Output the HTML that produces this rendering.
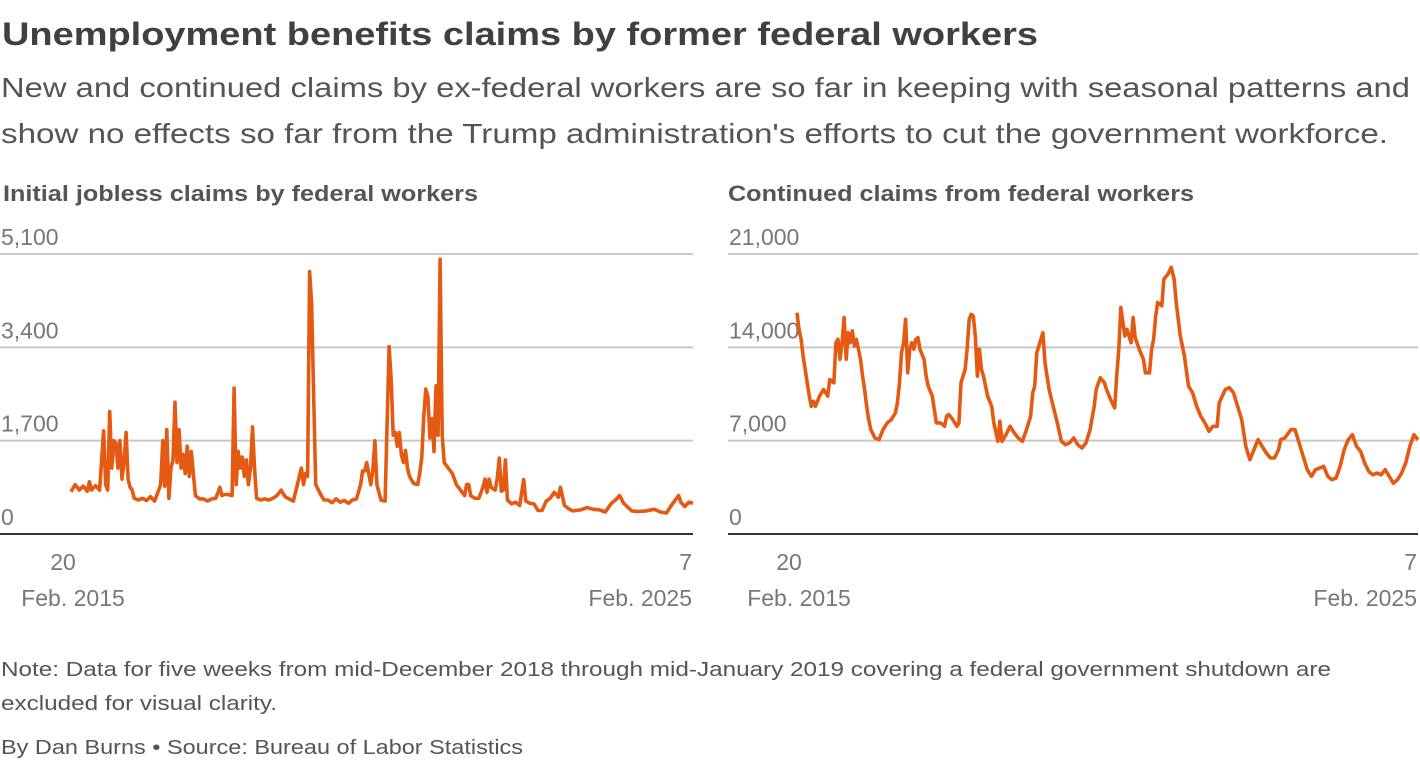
<!DOCTYPE html>
<html><head><meta charset="utf-8"><style>
html,body{margin:0;padding:0;background:#fff;}
svg{display:block;font-family:"Liberation Sans",sans-serif;}
</style></head><body>
<svg id="root" width="1420" height="760" viewBox="0 0 1420 760">
<text x="2" y="45" font-size="32" font-weight="bold" fill="#404040" textLength="1036" lengthAdjust="spacingAndGlyphs">Unemployment benefits claims by former federal workers</text>
<text x="1" y="97" font-size="28" fill="#555" textLength="1409" lengthAdjust="spacingAndGlyphs">New and continued claims by ex-federal workers are so far in keeping with seasonal patterns and</text>
<text x="1" y="143" font-size="28" fill="#555" textLength="1387" lengthAdjust="spacingAndGlyphs">show no effects so far from the Trump administration's efforts to cut the government workforce.</text>
<text x="3" y="201" font-size="22" font-weight="bold" fill="#555" textLength="475" lengthAdjust="spacingAndGlyphs">Initial jobless claims by federal workers</text>
<text x="728" y="201" font-size="22" font-weight="bold" fill="#555" textLength="466" lengthAdjust="spacingAndGlyphs">Continued claims from federal workers</text>
<g id="left"></g>
<g id="right"></g>
<text x="1" y="676" font-size="20" fill="#555" textLength="1330" lengthAdjust="spacingAndGlyphs">Note: Data for five weeks from mid-December 2018 through mid-January 2019 covering a federal government shutdown are</text>
<text x="1" y="710" font-size="20" fill="#555" textLength="276" lengthAdjust="spacingAndGlyphs">excluded for visual clarity.</text>
<text x="1" y="754" font-size="20" fill="#555" textLength="522" lengthAdjust="spacingAndGlyphs">By Dan Burns • Source: Bureau of Labor Statistics</text>
</svg>
<script>
// Initial claims: period index and values
const initIdx = [30,40,50,60,70,75,80,90,100,110,115,120,125,130,135,140,145,150,155,160,165,170,175,180,185,195,205,215,225,235,245,250,255,260,265,270,275,280,285,290,295,300,305,310,315,320,325,335,345,355,365,375,385,395,400,405,415,425,430,435,440,445,450,455,460,465,470,475,480,485,495,505,515,525,535,545,555,565,575,585,595,600,605,610,615,620,625,630,640,650,660,670,680,690,700,710,720,730,740,745,750,755,760,765,770,775,780,790,800,810,815,820,825,830,835,840,845,850,855,860,870,880,885,890,895,900,905,910,915,920,925,930,935,940,945,955,965,975,985,995,1000,1005,1010,1020,1030,1040,1045,1050,1055,1060,1070,1075,1080,1085,1090,1095,1100,1110,1120,1130,1140,1145,1155,1165,1175,1185,1195,1205,1215,1225,1230,1240,1250,1260,1280,1295,1310,1325,1340,1355,1365,1375,1385,1395,1405,1420,1440,1460,1475,1490,1500,1510,1520,1525,1535,1545,1555];
const initVals = [770,900,800,870,780,950,800,880,800,1880,900,800,2230,1200,1700,1650,1200,1700,1000,1300,1850,1000,850,800,650,620,650,610,680,600,800,900,1700,870,1900,650,1200,1350,2400,1300,1900,1200,1450,1100,1600,1050,1500,700,640,640,600,640,650,850,700,720,720,700,2660,900,1500,1200,1400,1050,1350,900,1200,1950,1200,650,620,640,620,650,700,800,680,640,600,900,1200,900,1100,1050,4780,4200,2500,900,750,620,620,570,640,580,610,560,620,640,900,1150,1150,1300,1100,900,1150,1700,900,620,600,3413,2800,1800,1850,1600,1850,1450,1300,1520,1200,1050,920,900,1100,1400,2150,2640,2500,1750,2100,1500,2700,1800,5005,1800,1300,1200,1100,900,800,700,900,900,700,650,650,850,1000,760,1000,850,800,1000,1380,780,800,1350,620,550,580,520,990,600,560,550,430,430,600,650,760,670,850,520,460,420,440,480,450,440,400,560,620,700,560,490,420,410,420,450,400,380,500,600,700,580,500,580,560];
const initTicks = [0,1700,3400,5100];
const initTickLabels = ["0","1,700","3,400","5,100"];
// Continued claims
const contIdx = [45,50,55,60,65,70,75,80,85,90,95,100,110,120,125,135,140,145,150,155,160,165,170,175,180,185,190,200,205,210,215,220,225,235,245,255,265,275,285,290,295,300,305,310,315,320,325,330,335,340,345,355,360,365,375,380,385,395,405,410,415,425,435,440,445,455,460,465,470,475,480,485,490,495,500,510,520,525,535,540,545,555,565,575,585,595,605,615,620,625,630,640,645,650,660,670,680,690,700,710,720,730,740,750,760,770,775,785,795,800,810,820,825,830,835,840,845,850,860,865,870,880,890,895,905,910,915,920,925,935,940,950,958,965,970,980,990,1000,1010,1020,1030,1040,1050,1060,1070,1075,1090,1100,1110,1120,1130,1140,1150,1160,1170,1180,1190,1200,1210,1220,1225,1235,1250,1260,1270,1280,1290,1300,1310,1320,1330,1340,1350,1360,1370,1380,1390,1400,1410,1420,1430,1440,1450,1460,1470,1480,1490,1500,1510,1520,1530,1540,1550,1560];
const contVals = [16600,15350,14600,13350,12340,11340,10340,9580,9960,9580,9960,10340,10840,10340,11590,11340,14350,14600,13100,14350,16230,13100,15100,14350,15230,14100,14600,13100,11840,10840,9580,8580,7830,7200,7080,7830,8330,8580,9080,9830,11340,13600,14350,16100,12090,13850,14350,13850,14600,14730,13850,13100,11840,11090,10340,9330,8330,8330,8080,8830,8960,8580,8080,8330,11340,12340,13850,16100,16480,16350,14850,11840,13850,12340,11840,10340,9580,8330,6950,8460,6950,7450,8080,7580,7200,6950,7830,8830,10590,11090,13600,14600,15100,12850,10840,9580,8330,6950,6700,6830,7200,6700,6450,6830,7830,9580,10840,11720,11340,10840,10090,9460,11840,13850,16980,15860,14850,15350,14350,16230,14730,13850,13100,12090,12090,13850,14600,16360,17360,17110,19120,19500,20000,19120,17360,14850,13350,11090,10590,9580,8830,8330,7700,8080,8080,9830,10840,10970,10590,9580,8580,6570,5570,6330,7080,6570,6070,5700,5700,6330,7080,7200,7830,7830,6830,5820,4820,4320,4820,4940,5070,4320,4070,4190,5070,6330,7080,7450,6570,6200,5320,4690,4440,4570,4440,4820,4320,3810,4070,4570,5320,6570,7450,7080];
const contTicks = [0,7000,14000,21000];
const contTickLabels = ["0","7,000","14,000","21,000"];

const NS = "http://www.w3.org/2000/svg";
function mk(tag, attrs, parent){const e=document.createElementNS(NS,tag);for(const k in attrs)e.setAttribute(k,attrs[k]);parent.appendChild(e);return e;}

function panel(g, x0, x1, dx0, dx1, idx, vals, ticks, labels, yMax){
  const yTop=254, yBot=534;
  const ys=v=>yBot-(v/yMax)*(yBot-yTop);
  const xs=i=>dx0+(i-idx[0])/(idx[idx.length-1]-idx[0])*(dx1-dx0);
  ticks.forEach((t,k)=>{
    if(t>0){
      const l=mk('line',{x1:x0,x2:x1,y1:ys(t),y2:ys(t),stroke:'#c8c8c8','stroke-width':2},g);
      
      
    }
    const tx=mk('text',{x:x0+1,y:ys(t)-9,'font-size':23,fill:'#777'},g);
    tx.textContent=labels[k];
    
    
  });
  const ax=mk('line',{x1:x0,x2:x1,y1:yBot,y2:yBot,stroke:'#333','stroke-width':2},g);
  
  
  const d=idx.map((i,k)=>(k?'L':'M')+xs(i).toFixed(1)+' '+ys(vals[k]).toFixed(1)).join(' ');
  const p=mk('path',{d:d,fill:'none',stroke:'#e55a13','stroke-width':3.6,'stroke-linejoin':'round'},g);
  
  
  const xl=[["20",dx0-8,570,'middle'],["Feb. 2015",dx0+2,606,'middle'],["7",x1-1,570,'end'],["Feb. 2025",x1-1,606,'end']];
  xl.forEach(a=>{
    const t=mk('text',{x:a[1],y:a[2],'font-size':23,fill:'#777','text-anchor':a[3]},g);
    t.textContent=a[0];
    
    
  });
}
panel(document.getElementById('left'),0,693,71,693,initIdx,initVals,initTicks,initTickLabels,5100);
panel(document.getElementById('right'),728,1418,797,1418,contIdx,contVals,contTicks,contTickLabels,21000);
</script>
</body></html>
